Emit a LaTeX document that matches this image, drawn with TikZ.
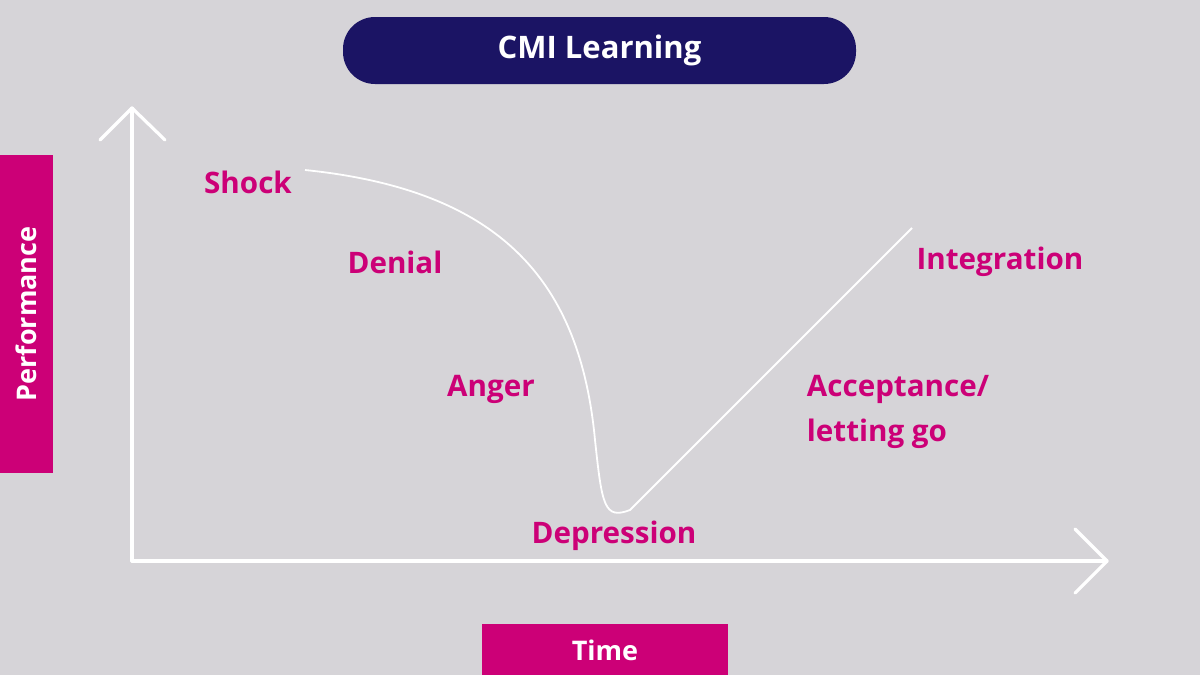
\documentclass[tikz,border=0pt]{standalone}
\usepackage{fontspec}
\setmainfont{Open Sans}
\usetikzlibrary{positioning}
\definecolor{bgGrey}{HTML}{D6D4D8}
\definecolor{cmiNavy}{HTML}{1B1464}
\definecolor{cmiPink}{HTML}{CC0077}
\tikzset{%
  stage/.style = {text=cmiPink, font=\fontsize{14.8}{22.5}\selectfont\bfseries, align=left},
  tag/.style   = {fill=cmiPink, text=white, font=\fontsize{13.5}{16}\selectfont\bfseries, inner sep=0pt},
  axis/.style  = {draw=white, line width=1.6pt, line cap=round, line join=round}
}
\begin{document}
\begin{tikzpicture}[x=0.5pt, y=-0.5pt]
  \fill[bgGrey] (0,0) rectangle (1200,675);
  \useasboundingbox (0,0) rectangle (1200,675);

  % title and axis tags
  \node[fill=cmiNavy, rounded corners=16pt, minimum width=256.5pt, minimum height=33.5pt,
        text=white, font=\fontsize{15.5}{18}\selectfont\bfseries] (title) at (599.5,50.5) {\raisebox{-1pt}{CMI Learning}};
  \node[tag, minimum width=26.5pt, minimum height=159pt] (perf) at (26.5,314) {};
  \node[text=white, font=\fontsize{13.5}{16}\selectfont\bfseries, rotate=90] (perflabel) at (perf.center) {Performance};
  \node[tag, minimum width=123pt, minimum height=26pt] (time) at (605,650) {Time};

  % axes
  \coordinate (origin) at (132,561);
  \coordinate (ytop) at (132,108);
  \coordinate (xend) at (1107,561);
  \draw[axis] (origin) -- (ytop);
  \draw[axis] (100,140) -- (ytop) -- (165,140);
  \draw[axis] (origin) -- (xend);
  \draw[axis] (1075,529) -- (xend) -- (1075,593);

  % change curve
  \coordinate (start) at (305,170);
  \coordinate (bottom) at (630,510);
  \coordinate (top) at (912,228);
  \draw[white, line width=0.9pt] (start) .. controls (500,190) and (580,280) .. (595,440)
    .. controls (602,505) and (604,520) .. (bottom) -- (top);

  % stages
  \node[stage] (shock) at (248,182) {Shock};
  \node[stage] (denial) at (395,262) {Denial};
  \node[stage] (anger) at (491,389) {Anger};
  \node[stage] (depression) at (614,536) {Depression};
  \node[stage] (accept) at (898,412) {Acceptance/\\letting go};
  \node[stage] (integration) at (1000,262) {Integration};
\end{tikzpicture}
\end{document}
